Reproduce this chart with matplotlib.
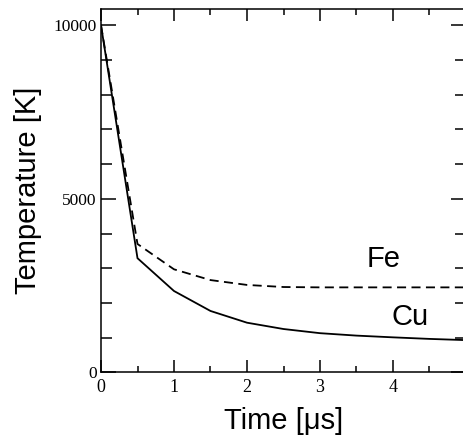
import matplotlib
matplotlib.use("Agg")
import matplotlib.pyplot as plt
from matplotlib.ticker import MultipleLocator

time_us = [0, 0.5, 1.0, 1.5, 2.0, 2.5, 3.0, 3.5, 4.0, 4.5, 5.0]
cu_temp = [10000, 3290, 2345, 1770, 1432, 1250, 1130, 1060, 1010, 965, 930]
fe_temp = [10000, 3700, 2970, 2660, 2520, 2460, 2450, 2450, 2450, 2450, 2450]

fig = plt.figure(figsize=(4.63, 4.37), dpi=100)
ax = fig.add_axes([101/463, (437-372.4)/437, 365/463, (372.4-9)/437])

ax.plot(time_us, cu_temp, color="black", lw=1.3, solid_joinstyle="miter")
ax.plot(time_us, fe_temp, color="black", lw=1.3, linestyle=(0, (5, 3)))

ax.set_xlim(0, 5)
ax.set_ylim(0, 10470)
ax.xaxis.set_major_locator(MultipleLocator(1))
ax.xaxis.set_minor_locator(MultipleLocator(0.5))
ax.yaxis.set_major_locator(MultipleLocator(5000))
ax.yaxis.set_minor_locator(MultipleLocator(1000))

ax.tick_params(axis="both", which="both", direction="in", top=True, right=True, width=1.1)
ax.tick_params(axis="x", which="major", length=8.6, pad=5, labelsize=13)
ax.tick_params(axis="x", which="minor", length=4.3)
ax.tick_params(axis="y", which="major", length=10.8, pad=3, labelsize=12.5)
ax.tick_params(axis="y", which="minor", length=8)
for lab in ax.get_xticklabels() + ax.get_yticklabels():
    lab.set_fontfamily("Liberation Serif")
for s in ax.spines.values():
    s.set_linewidth(1.1)

ax.set_xlabel("Time [\u03bcs]", fontsize=21, fontfamily="Liberation Sans", labelpad=8)
ax.set_ylabel("Temperature [K]", fontsize=21, fontfamily="Liberation Sans", labelpad=8)

ax.text(3.87, 3270, "Fe", fontsize=21, fontfamily="Liberation Sans", ha="center", va="center")
ax.text(4.24, 1600, "Cu", fontsize=21, fontfamily="Liberation Sans", ha="center", va="center")

fig.savefig("out.png", dpi=100)
